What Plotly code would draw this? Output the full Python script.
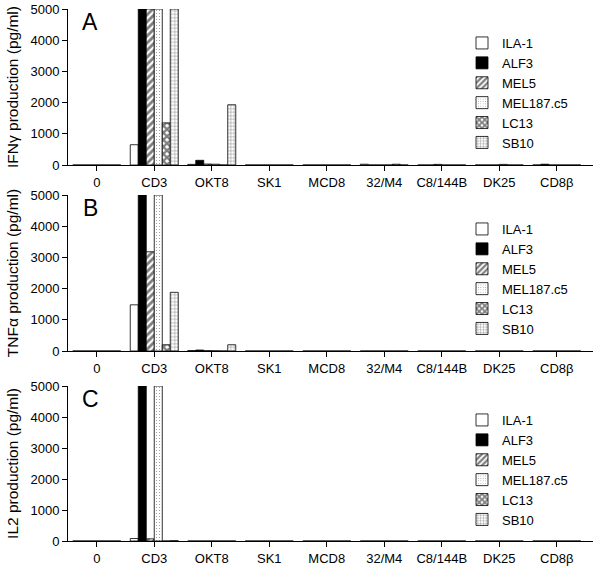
import plotly.graph_objects as go

categories = ["0", "CD3", "OKT8", "SK1", "MCD8", "32/M4", "C8/144B", "DK25", "CD8β"]
series = ["ILA-1", "ALF3", "MEL5", "MEL187.c5", "LC13", "SB10"]

# Panel A: IFN-gamma (pg/ml)
ifng = {
    "ILA-1":     [0, 650, 20, 0, 0, 25, 0, 0, 0],
    "ALF3":      [0, 5000, 150, 0, 0, 0, 0, 0, 25],
    "MEL5":      [0, 5000, 30, 0, 0, 0, 20, 0, 0],
    "MEL187.c5": [0, 5000, 25, 0, 0, 0, 0, 20, 0],
    "LC13":      [0, 1350, 0, 0, 0, 25, 0, 0, 0],
    "SB10":      [0, 5000, 1930, 0, 0, 0, 0, 0, 0],
}
# Panel B: TNF-alpha (pg/ml)
tnfa = {
    "ILA-1":     [0, 1480, 15, 0, 0, 0, 0, 0, 0],
    "ALF3":      [0, 5000, 30, 0, 0, 0, 0, 0, 0],
    "MEL5":      [0, 3180, 10, 0, 0, 0, 0, 0, 0],
    "MEL187.c5": [0, 5000, 5, 0, 0, 0, 0, 0, 0],
    "LC13":      [0, 200, 0, 0, 0, 0, 0, 0, 0],
    "SB10":      [0, 1880, 200, 0, 0, 0, 0, 0, 0],
}
# Panel C: IL2 (pg/ml)
il2 = {
    "ILA-1":     [0, 80, 0, 0, 0, 0, 0, 0, 0],
    "ALF3":      [0, 5000, 0, 0, 0, 0, 0, 0, 0],
    "MEL5":      [0, 70, 0, 0, 0, 0, 0, 0, 0],
    "MEL187.c5": [0, 5000, 0, 0, 0, 0, 0, 0, 0],
    "LC13":      [0, 0, 0, 0, 0, 0, 0, 0, 0],
    "SB10":      [0, 10, 0, 0, 0, 0, 0, 0, 0],
}
panel_letters = ["A", "B", "C"]
y_titles = ["IFNγ production (pg/ml)", "TNFα production (pg/ml)", "IL2 production (pg/ml)"]
y_ticks = [0, 1000, 2000, 3000, 4000, 5000]

styles = {
    "ILA-1":     dict(color="white", pattern=dict(shape="")),
    "ALF3":      dict(color="black", pattern=dict(shape="")),
    "MEL5":      dict(color="white", pattern=dict(shape="/", fgcolor="black", size=5, solidity=0.55)),
    "MEL187.c5": dict(color="white", pattern=dict(shape=".", fgcolor="#222", size=3, solidity=0.12)),
    "LC13":      dict(color="white", pattern=dict(shape="x", fgcolor="black", size=5, solidity=0.7)),
    "SB10":      dict(color="white", pattern=dict(shape="+", fgcolor="black", size=3.5, solidity=0.25)),
}

FONT = "Liberation Sans, Arial, sans-serif"
W, H = 600, 568
# panel pixel extents (top, bottom)
panels_px = [(9, 165), (195, 351), (386, 541)]
x_px = (68, 593)

fig = go.Figure()
datasets = [ifng, tnfa, il2]
for i, data in enumerate(datasets):
    ax = "" if i == 0 else str(i + 1)
    leg = "legend" if i == 0 else f"legend{i+1}"
    for s in series:
        st = styles[s]
        fig.add_trace(go.Bar(
            x=categories, y=data[s], name=s,
            xaxis="x" + ax, yaxis="y" + ax, legend=leg,
            marker=dict(color=st["color"], pattern=st["pattern"],
                        line=dict(color="black", width=0.8)),
            showlegend=True,
        ))

layout = dict(
    width=W, height=H,
    margin=dict(l=0, r=0, t=0, b=0, autoexpand=False),
    paper_bgcolor="white", plot_bgcolor="white",
    barmode="group", bargap=0.165, bargroupgap=0,
    font=dict(family=FONT, size=13, color="black"),
    showlegend=True,
)
annotations = []
for i, (top, bot) in enumerate(panels_px):
    ax = "" if i == 0 else str(i + 1)
    yd = [1 - bot / H, 1 - top / H]
    layout["xaxis" + ax] = dict(
        domain=[x_px[0] / W, x_px[1] / W], anchor="y" + ax,
        range=[-0.5, 8.63], showline=True, linecolor="black", linewidth=1,
        ticks="outside", ticklen=5, tickcolor="black", showgrid=False,
        tickfont=dict(size=13), zeroline=False, automargin=False,
    )
    layout["yaxis" + ax] = dict(
        domain=yd, anchor="x" + ax, range=[0, 5000],
        tickvals=y_ticks, showline=True, linecolor="black", linewidth=1,
        ticks="outside", ticklen=5, tickcolor="black", showgrid=False,
        zeroline=False, tickfont=dict(size=13), automargin=False,
        title=dict(text=y_titles[i], font=dict(size=15.5), standoff=8),
    )
    leg = "legend" if i == 0 else f"legend{i+1}"
    layout[leg] = dict(
        x=462 / W, y=1 - (top + 19) / H, xanchor="left", yanchor="top",
        font=dict(size=13), bgcolor="rgba(0,0,0,0)", itemwidth=30,
        tracegroupgap=0,
    )
    annotations.append(dict(
        text=panel_letters[i], x=90 / W, y=1 - (top + 13) / H,
        xref="paper", yref="paper", showarrow=False,
        font=dict(size=23), xanchor="center", yanchor="middle",
    ))
layout["annotations"] = annotations
fig.update_layout(**layout)
fig.write_html("out.html", config={"displayModeBar": False},
               post_script="document.body.style.margin='0px';")
